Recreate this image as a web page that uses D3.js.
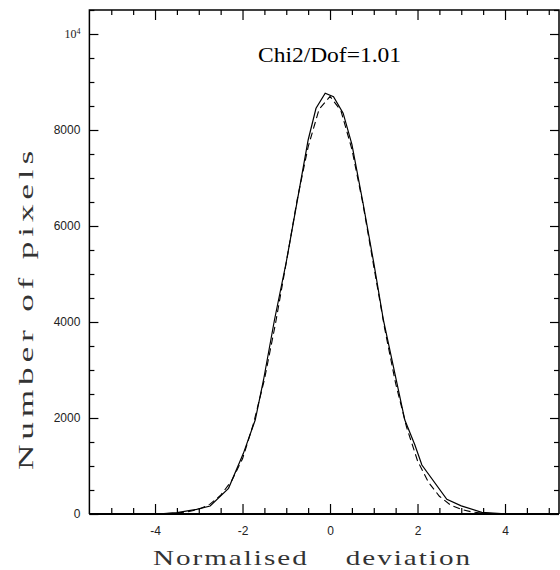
<!DOCTYPE html>
<html><head><meta charset="utf-8">
<script src="https://cdn.jsdelivr.net/npm/d3@7"></script>
<style>body{margin:0;background:#fff}svg{display:block}</style>
</head><body>
<svg id="c" width="560" height="570"></svg>
<script>
// Data: histogram (solid) vertices
const histX = [-4.2,-3.8,-3.5,-3.05,-2.74,-2.32,-1.98,-1.71,-1.52,-1.27,-1.0,-0.75,-0.5,-0.32,-0.11,0.08,0.3,0.5,0.75,1.0,1.22,1.5,1.71,1.94,2.1,2.67,3.0,3.47,4.0,4.5];
const histY = [0,8,27,98,167,535,1264,1958,2792,4042,5250,6520,7792,8452,8765,8694,8350,7700,6500,5230,4042,2850,1958,1437,1021,306,170,35,5,0];
// Fit (dashed) values
const fitX = [-4,-3.75,-3.5,-3.25,-3,-2.75,-2.5,-2.25,-2,-1.75,-1.5,-1.25,-1,-0.75,-0.5,-0.25,0,0.25,0.5,0.75,1,1.25,1.5,1.75,2,2.25,2.5,2.75,3,3.25,3.5,3.75,4];
const fitY = [3,7,19,45,100,200,390,690,1150,1880,2800,3950,5240,6550,7650,8430,8700,8400,7600,6470,5160,3860,2720,1810,1110,660,370,190,95,42,17,7,2];
const xMajor = [-4,-2,0,2,4];
const xMinor = [-5,-4.5,-3.5,-3,-2.5,-1.5,-1,-0.5,0.5,1,1.5,2.5,3,3.5,4.5,5];
const yMajor = [0,2000,4000,6000,8000,10000];
const yMinor = [500,1000,1500,2500,3000,3500,4500,5000,5500,6500,7000,7500,8500,9000,9500,10500];
const title = "Chi2/Dof=1.01";
const xTitle = "Normalised    deviation";
const yTitle = "Number of pixels";

const L=89.4, R=559, T=10, B=514;
const svg = d3.select("#c");
const x = d3.scaleLinear().domain([-5.5,5.234]).range([L,R]);
const y = d3.scaleLinear().domain([0,10500]).range([B,T]);
const numFont = "Liberation Sans, Arial, sans-serif";
const titleFont = "Liberation Serif, Times New Roman, serif";

function style(g){
  g.select(".domain").remove();
  g.selectAll(".tick line").attr("stroke","#000").attr("stroke-width",1.2);
  g.selectAll("text").attr("font-family",numFont).attr("font-size",12).attr("fill","#222");
}
// bottom
svg.append("g").attr("transform",`translate(0,${B})`)
  .call(d3.axisBottom(x).tickValues(xMajor).tickSize(-10).tickPadding(12.5).tickFormat(d=>String(d))).call(style);
svg.append("g").attr("transform",`translate(0,${B})`)
  .call(d3.axisBottom(x).tickValues(xMinor).tickSize(-6).tickFormat("")).call(style);
// top
svg.append("g").attr("transform",`translate(0,${T})`)
  .call(d3.axisTop(x).tickValues(xMajor).tickSize(-10).tickFormat("")).call(style);
svg.append("g").attr("transform",`translate(0,${T})`)
  .call(d3.axisTop(x).tickValues(xMinor).tickSize(-5).tickFormat("")).call(style);
// left
const ly = svg.append("g").attr("transform",`translate(${L},0)`)
  .call(d3.axisLeft(y).tickValues(yMajor).tickSize(-9).tickPadding(9).tickFormat(d=> d===10000? "" : String(d))).call(style);
ly.selectAll(".tick").filter(d=>d===10000).select("text")
  .attr("font-family","Liberation Serif, serif").attr("font-size",12)
  .call(t=>{t.append("tspan").text("10"); t.append("tspan").attr("font-size",8).attr("dy","-4").text("4");});
svg.append("g").attr("transform",`translate(${L},0)`)
  .call(d3.axisLeft(y).tickValues(yMinor).tickSize(-5).tickFormat("")).call(style);
// right
svg.append("g").attr("transform",`translate(${R},0)`)
  .call(d3.axisRight(y).tickValues(yMajor).tickSize(-9).tickFormat("")).call(style);
svg.append("g").attr("transform",`translate(${R},0)`)
  .call(d3.axisRight(y).tickValues(yMinor).tickSize(-5).tickFormat("")).call(style);

// frame
svg.append("path").attr("d",`M${L},${B}V${T}H${R}V${B}`).attr("fill","none").attr("stroke","#000").attr("stroke-width",1.5);
svg.append("line").attr("x1",L).attr("x2",R).attr("y1",B).attr("y2",B).attr("stroke","#000").attr("stroke-width",2.2);

const line = d3.line().x(d=>x(d[0])).y(d=>y(d[1]));
svg.append("path").datum(fitX.map((v,i)=>[v,fitY[i]])).attr("d",line)
  .attr("fill","none").attr("stroke","#000").attr("stroke-width",1.1).attr("stroke-dasharray","7,4");
svg.append("path").datum(histX.map((v,i)=>[v,histY[i]])).attr("d",line)
  .attr("fill","none").attr("stroke","#000").attr("stroke-width",1.2);

svg.append("text").attr("x",258).attr("y",62).attr("textLength",143).attr("lengthAdjust","spacingAndGlyphs")
  .attr("font-family",titleFont).attr("font-size",21).text(title);
svg.append("text").attr("x",153).attr("y",565).attr("textLength",319).attr("lengthAdjust","spacingAndGlyphs")
  .style("white-space","pre").attr("letter-spacing",1.5)
  .attr("font-family",titleFont).attr("font-size",22).attr("fill","#333").text(xTitle);
svg.append("text").attr("transform","translate(33,470) rotate(-90)").attr("textLength",324).attr("lengthAdjust","spacingAndGlyphs")
  .attr("letter-spacing",3)
  .attr("font-family",titleFont).attr("font-size",22).attr("fill","#333").text(yTitle);
</script>
</body></html>
